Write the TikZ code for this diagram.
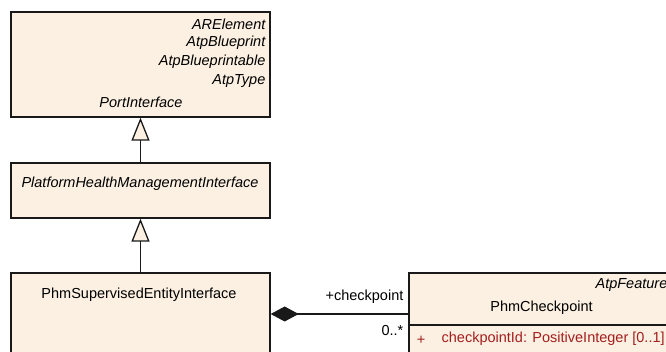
\documentclass[tikz,border=0pt]{standalone}
\usepackage{fontspec}
\setmainfont{Liberation Sans}
\usetikzlibrary{arrows.meta, positioning}
\definecolor{cfill}{RGB}{251,240,225}
\definecolor{cline}{RGB}{25,25,25}
\definecolor{cred}{RGB}{165,30,30}
\tikzset{
  every picture/.style={font=\fontsize{14.5}{17}\selectfont, line width=1.3pt},
  umlbox/.style={draw=cline, fill=cfill, minimum width=259pt, inner sep=0pt},
  stereo/.style={font=\fontsize{14.5}{17}\selectfont\itshape, anchor=east, inner sep=0pt},
  cname/.style={inner sep=0pt},
  inherit/.style={-{Triangle[length=23pt, width=18pt, fill=cfill]}, draw=cline},
  compose/.style={{Diamond[length=28pt, width=15pt]}-, draw=cline},
  role/.style={anchor=east, inner sep=0pt},
  attr/.style={text=cred, inner sep=0pt},
}

\begin{document}
\begin{tikzpicture}[x=1pt, y=-1pt]
  \useasboundingbox (0,0) rectangle (666,352);
  \clip (0,0) rectangle (666,352);
  % top: the abstract port interface and its stereotypes
  \node[umlbox, minimum height=105pt] (portif) at (140.5,64.5) {};
  \node[stereo] (arel) at (266,24) {ARElement};
  \node[stereo] (atpbp) at (266,43) {AtpBlueprint};
  \node[stereo] (atpbpa) at (266,62) {AtpBlueprintable};
  \node[stereo] (atptype) at (266,81) {AtpType};
  \node[cname, font=\fontsize{14.5}{17}\selectfont\itshape] (portname) at (141,102) {PortInterface};
  % middle: platform health management interface
  \node[umlbox, minimum height=55pt] (phmif) at (140.5,190.5) {};
  \node[cname, font=\fontsize{14.5}{17}\selectfont\itshape] (phmifname) at (140,184) {PlatformHealthManagementInterface};
  % bottom left: the supervised entity interface
  \node[umlbox, minimum height=140pt] (phmse) at (140.5,343) {};
  \node[cname] (phmsename) at (139,295) {PhmSupervisedEntityInterface};
  % bottom right: the checkpoint class with one attribute
  \node[umlbox, minimum width=264pt, minimum height=140pt] (chk) at (541,343) {};
  \node[stereo] (atpfeat) at (668,285) {AtpFeature};
  \node[cname] (chkname) at (541.5,308) {PhmCheckpoint};
  \draw[cline] (chk.west |- 0,325) -- (chk.east |- 0,325);
  \node[attr] (vis) at (421,340) {+};
  \node[attr, anchor=west] (chkid) at (441,339) {checkpointId: PositiveInteger [0..1]};
  % generalizations
  \draw[inherit] (phmif.north) -- (portif.south);
  \draw[inherit] (phmse.north) -- (phmif.south);
  % composition
  \coordinate (joint) at (340,314);
  \draw[compose] (phmse.east |- joint) -- (chk.west |- joint);
  \node[role] (rolename) at (404,297) {+checkpoint};
  \node[role] (mult) at (404,331) {0..*};
\end{tikzpicture}
\end{document}
